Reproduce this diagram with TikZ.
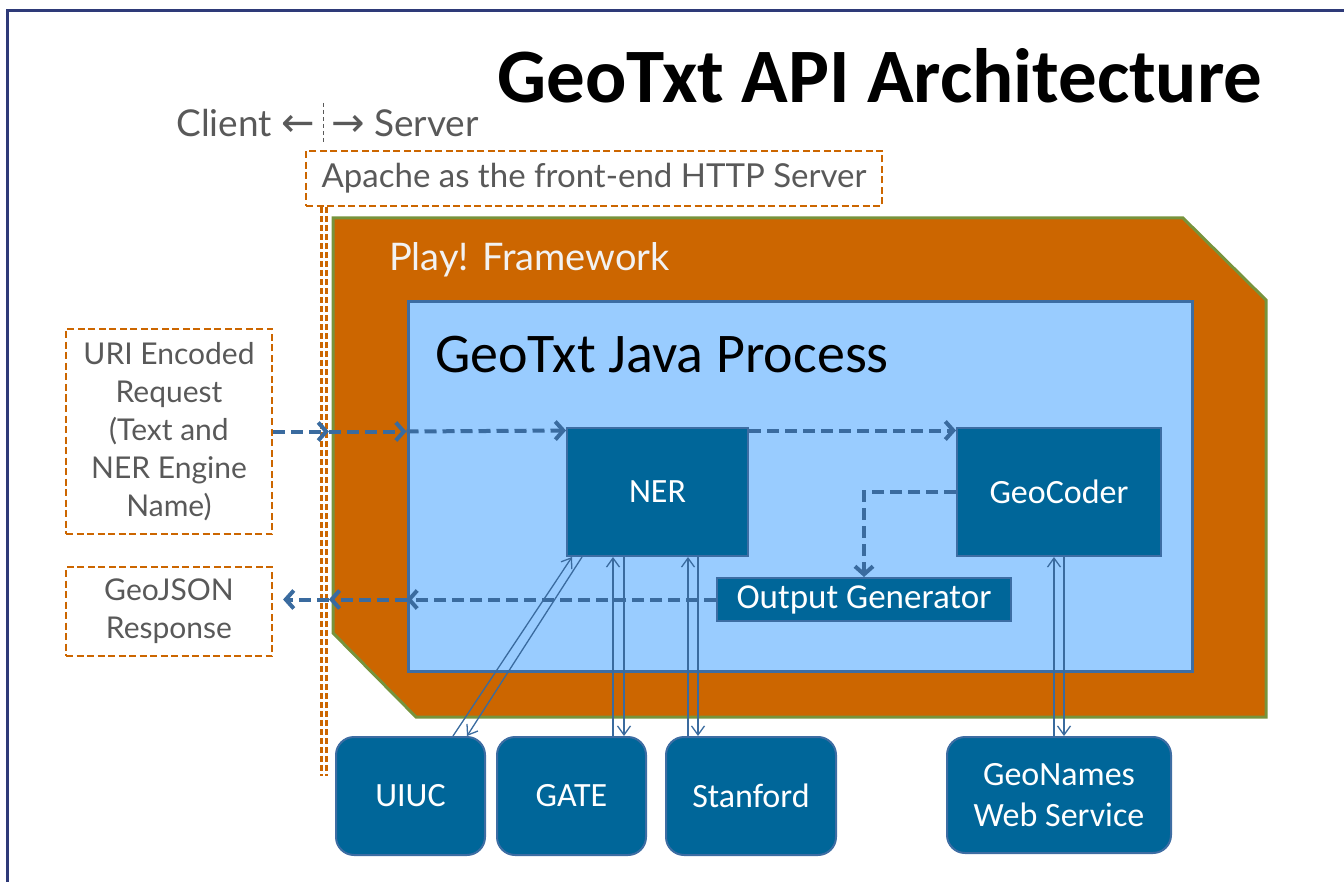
\documentclass[tikz,border=0pt]{standalone}
\usepackage{fontspec}
\setmainfont{Carlito}
\newfontfamily\gill{Lato}
\newfontfamily\dejavu{DejaVu Sans}
\usetikzlibrary{arrows.meta,calc}
\definecolor{framec}{HTML}{2E3A78}
\definecolor{orng}{HTML}{CC6600}
\definecolor{grn}{HTML}{77933C}
\definecolor{lblue}{HTML}{99CCFF}
\definecolor{dblue}{HTML}{006699}
\definecolor{bedge}{HTML}{3D6DA3}
\definecolor{arr}{HTML}{3A6B9F}
\definecolor{gtxt}{HTML}{595959}
\tikzset{
  dbox/.style={draw=bedge, line width=2pt, fill=dblue, text=white,
    font=\fontsize{34}{41}\selectfont, inner sep=0pt, align=center},
  engine/.style={dbox, rounded corners=18pt, minimum height=118pt},
  dashbox/.style={draw=orng, line width=2.2pt, dash pattern=on 7pt off 3.5pt,
    text=gtxt, font=\gill\fontsize{30}{38}\selectfont, align=center, inner sep=0pt},
  flow/.style={draw=arr, line width=4pt, dash pattern=on 12pt off 6pt,
    -{Straight Barb[length=8pt,width=18pt]}},
  link/.style={draw=arr, line width=1.3pt, -{Straight Barb[length=9pt,width=13pt]}},
  gray/.style={text=gtxt, font=\gill\fontsize{37}{44}\selectfont, inner sep=0pt}
}
\begin{document}
\begin{tikzpicture}[x=1pt,y=-1pt]
\useasboundingbox (0,0) rectangle (1344,882);
% frame
\draw[framec, line width=3pt] (1344,11) -- (7,11) -- (7,882);
% title
\node[font=\bfseries\fontsize{77}{82}\selectfont, inner sep=0pt] (title) at (880,76) {GeoTxt API Architecture};
% client / server
\node[gray, anchor=east] (client) at (315,123) {Client {\dejavu\fontsize{40}{44}\selectfont ←}};
\node[gray, anchor=west] (server) at (331,123) {{\dejavu\fontsize{40}{44}\selectfont →} Server};
\coordinate (sepT) at (323,103);
\coordinate (sepB) at (323,143);
\draw[gtxt, line width=1pt, dash pattern=on 4pt off 3pt] (sepT) -- (sepB);
% apache
\node[dashbox, font=\gill\fontsize{33}{40}\selectfont, minimum width=576pt, minimum height=55pt] (apache) at (594,178.5) {Apache as the front-end HTTP Server};
\coordinate (apA) at ($(apache.south west)+(16.5,0)$);
\coordinate (apB) at ($(apache.south west)+(21.5,0)$);
\coordinate (apT) at ($(apache.south west)+(24,0)$);
\draw[orng, line width=2.6pt, dash pattern=on 6pt off 3pt] (apA) -- ++(0,569);
\draw[orng, line width=2.6pt, dash pattern=on 6pt off 3pt] (apB) -- ++(0,569);
% play framework
\draw[fill=orng, draw=grn, line width=3pt] (333,218) -- (1183,218) -- (1266,300) -- (1266,717) -- (416,717) -- (333,633) -- cycle;
\node[anchor=west, text=white!95!black, font=\gill\fontsize{38}{44}\selectfont, inner sep=0pt] (play) at (389,260) {Play! Framework};
% java process
\node[draw=bedge, line width=3pt, fill=lblue, minimum width=784pt, minimum height=369pt, inner sep=0pt] (jp) at (800,486.5) {};
\node[anchor=west, font=\fontsize{56}{62}\selectfont, inner sep=0pt] (jptitle) at (435,355) {GeoTxt Java Process};
% inner boxes
\node[dbox, minimum width=181pt, minimum height=128pt] (ner) at (657.5,492) {NER};
\node[dbox, minimum width=204pt, minimum height=128pt] (geo) at (1059,492) {GeoCoder};
\node[dbox, font=\fontsize{35}{41}\selectfont, minimum width=294pt, minimum height=43pt] (out) at (864,599.5) {Output Generator};
% client boxes
\node[dashbox, minimum width=206pt, minimum height=205pt] (uri) at (169,431.5) {URI Encoded\\Request\\(Text and\\NER Engine\\Name)};
\node[dashbox, minimum width=206pt, minimum height=89pt] (gj) at (169,611.5) {GeoJSON\\Response};
% engines
\node[engine, minimum width=149pt] (uiuc) at (410.5,796) {UIUC};
\node[engine, minimum width=149pt] (gate) at (571.5,796) {GATE};
\node[engine, minimum width=170pt] (stan) at (751,796) {Stanford};
\node[engine, minimum width=224pt, minimum height=116pt] (gn) at (1059,795) {GeoNames\\Web Service};
% request flow
\draw[flow] (uri.east) -- (uri.east -| apT);
\draw[flow] (uri.east -| apT) -- (uri.east -| jp.west);
\draw[flow] (uri.east -| jp.west) -- ($(ner.north west)+(0,3.5)$);
\draw[flow] ($(ner.north east)+(0,3.5)$) -- ($(geo.north west)+(0,3.5)$);
\draw[flow] (geo.west) -| (out.north);
% response flow
\draw[flow] (out.west) -- (out.west -| jp.west);
\draw[flow] (out.west -| jp.west) -- (out.west -| apT);
\draw[flow, shorten >=10pt] (out.west -| apT) -- (out.west -| gj.east);
% engine links
\draw[link] ($(uiuc.north)+(42.5,0)$) -- ($(ner.south)+(-85.5,0)$);
\draw[link] ($(ner.south)+(-75.5,0)$) -- ($(uiuc.north)+(56.5,0)$);
\draw[link] ($(gate.north)+(41.5,0)$) -- ($(ner.south)+(-44.5,0)$);
\draw[link] ($(ner.south)+(-33.5,0)$) -- ($(gate.north)+(52.5,0)$);
\draw[link] ($(stan.north)+(-63,0)$) -- ($(ner.south)+(30.5,0)$);
\draw[link] ($(ner.south)+(40.5,0)$) -- ($(stan.north)+(-53,0)$);
\draw[link] ($(gn.north)+(-5,0)$) -- ($(geo.south)+(-5,0)$);
\draw[link] ($(geo.south)+(5,0)$) -- ($(gn.north)+(5,0)$);
\end{tikzpicture}
\end{document}
